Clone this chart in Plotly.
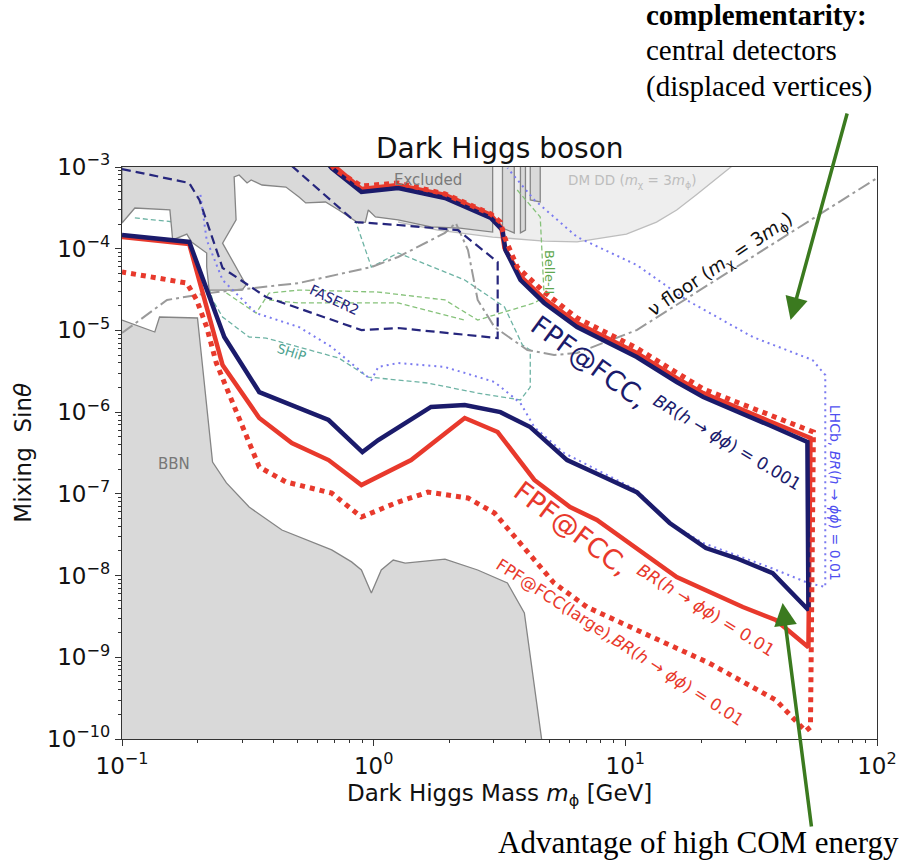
import plotly.graph_objects as go

# ---------------- data (mass in GeV, mixing sin(theta)) ----------------
# FPF@FCC, BR(h->phi phi)=0.001  (navy solid, closed contour: lower branch then upper branch)
navy_mass = [0.1, 0.185, 0.255, 0.351, 0.662, 0.902, 1.043, 1.69, 2.30, 3.19, 4.19, 5.87, 8.22, 11.1, 15.0, 20.9, 27.5, 38.5, 53.4,
             52.9, 37.2, 20.4, 16.0, 11.1, 6.43, 4.76, 3.83, 3.34, 3.25, 2.92, 1.92, 1.251, 0.894, 0.681, 0.639]
navy_sin = [1.47e-4, 1.21e-4, 8.30e-6, 1.76e-6, 8.01e-7, 3.25e-7, 4.56e-7, 1.16e-6, 1.22e-6, 1.00e-6, 6.57e-7, 2.59e-7, 1.61e-7, 1.05e-7, 4.40e-8, 2.17e-8, 1.64e-8, 1.07e-8, 3.79e-9,
            4.31e-7, 6.95e-7, 1.53e-6, 2.34e-6, 4.73e-6, 1.10e-5, 2.17e-5, 4.14e-5, 9.64e-5, 1.69e-4, 2.38e-4, 4.18e-4, 5.53e-4, 4.94e-4, 9.72e-4, 1.22e-3]

# FPF@FCC, BR=0.01 (red solid)
red_mass = [0.1, 0.185, 0.251, 0.351, 0.473, 0.662, 0.894, 1.043, 1.409, 2.30, 3.11, 4.35, 6.03, 7.71, 10.4, 16.0, 29.3, 39.6, 53.4,
            54.4, 37.2, 20.4, 16.0, 11.1, 6.43, 4.76, 3.83, 3.31, 3.22, 2.92, 1.92, 1.251, 0.894, 0.681, 0.639]
red_sin = [1.39e-4, 1.14e-4, 3.77e-6, 8.48e-7, 4.19e-7, 2.59e-7, 1.28e-7, 1.61e-7, 2.59e-7, 8.48e-7, 5.71e-7, 1.48e-7, 6.90e-8, 4.79e-8, 2.50e-8, 9.60e-9, 4.12e-9, 2.86e-9, 1.33e-9,
           4.82e-7, 7.79e-7, 1.71e-6, 2.61e-6, 5.30e-6, 1.23e-5, 2.43e-5, 4.63e-5, 1.02e-4, 1.79e-4, 2.59e-4, 4.54e-4, 6.02e-4, 5.38e-4, 1.06e-3, 1.29e-3]

# FPF@FCC(large), BR=0.01 (red dotted)
large_mass = [0.639, 0.706, 0.894, 1.251, 1.92, 2.92, 3.19, 3.31, 3.72, 4.76, 6.43, 11.1, 20.4, 37.2, 55.9,
              54.4, 52.0, 39.6, 21.5, 11.8, 7.04, 5.21, 3.83, 3.02, 2.37, 1.644, 1.251, 0.894, 0.681, 0.448, 0.351, 0.320, 0.274, 0.237, 0.217, 0.198, 0.181, 0.155, 0.1]
large_sin = [1.32e-3, 9.19e-4, 5.85e-4, 6.37e-4, 4.68e-4, 2.66e-4, 2.12e-4, 1.39e-4, 5.97e-5, 2.95e-5, 1.42e-5, 6.09e-6, 1.92e-6, 9.22e-7, 5.71e-7,
             1.40e-10, 1.25e-10, 3.00e-10, 8.51e-10, 1.98e-9, 4.12e-9, 8.11e-9, 2.50e-8, 5.83e-8, 8.89e-8, 1.05e-7, 7.94e-8, 5.21e-8, 1.02e-7, 1.40e-7, 2.13e-7, 4.19e-7, 1.41e-6, 3.99e-6, 1.10e-5, 2.36e-5, 3.80e-5, 4.14e-5, 5.19e-5]

# Excluded region (gray)
excl_mass = [0.1, 0.1, 0.1125, 0.155, 0.159, 0.181, 0.189, 0.217, 0.217, 0.222, 0.300, 0.311, 0.251, 0.284, 0.279, 0.292, 0.314,
             0.326, 0.360, 0.448, 0.505, 0.537, 0.644, 0.726, 0.870, 0.927, 0.952, 1.016, 1.251, 1.69, 2.20, 2.97, 2.97]
excl_sin = [1e-3, 2.06e-4, 3.15e-4, 2.98e-4, 1.28e-4, 1.51e-4, 1.21e-4, 8.87e-5, 5.97e-5, 3.12e-5, 3.12e-5, 3.60e-5, 1.17e-4, 2.25e-4, 7.55e-4, 7.98e-4, 6.37e-4,
            6.93e-4, 6.02e-4, 5.69e-4, 4.30e-4, 3.63e-4, 3.73e-4, 2.98e-4, 2.06e-4, 2.12e-4, 2.98e-4, 2.45e-4, 2.25e-4, 1.85e-4, 1.79e-4, 1.60e-4, 1e-3]
spike1_mass = [3.25, 3.25, 3.62, 3.62]
spike1_sin = [1e-3, 1.79e-4, 1.56e-4, 1e-3]
spike2_mass = [3.83, 3.83, 4.01, 4.01]
spike2_sin = [1e-3, 1.56e-4, 1.69e-4, 1e-3]
spike3_mass = [4.19, 4.19, 4.59, 4.59]
spike3_sin = [1e-3, 3.95e-4, 3.73e-4, 1e-3]

# DM direct detection (light gray, lower boundary)
dm_mass = [1.251, 1.80, 2.97, 4.76, 6.43, 10.1, 13.3, 16.0, 19.1, 25.8, 27.5]
dm_sin = [2.12e-4, 1.69e-4, 1.39e-4, 1.24e-4, 1.21e-4, 1.51e-4, 2.12e-4, 2.98e-4, 4.55e-4, 9.72e-4, 1.12e-3]

# BBN region
bbn_mass = [0.1, 0.135, 0.141, 0.1995, 0.229, 0.260, 0.320, 0.432, 0.681, 0.817, 0.894, 0.979, 1.072, 1.196, 1.334, 1.92, 2.59, 3.40, 3.97, 4.67, 0.1]
bbn_sin = [1.34e-5, 9.57e-6, 1.46e-5, 1.42e-5, 2.45e-7, 1.36e-7, 6.90e-8, 3.61e-8, 2.06e-8, 1.47e-8, 1.17e-8, 6.11e-9, 1.17e-8, 1.55e-8, 1.42e-8, 1.59e-8, 1.17e-8, 8.11e-9, 3.48e-9, 9e-11, 9e-11]

# FASER2
faser_mass = [0.473, 0.847, 1.251, 2.16, 3.11, 3.11, 1.251, 0.894, 0.374, 0.251, 0.203, 0.185, 0.1]
faser_sin = [1.03e-3, 2.12e-4, 1.95e-4, 1.69e-4, 6.88e-5, 8.07e-6, 1.07e-5, 1.01e-5, 2.56e-5, 5.81e-5, 3.95e-4, 6.37e-4, 9.45e-4]

# SHiP
ship_mass = [0.1125, 0.162, 0.194, 0.233, 0.284, 0.448, 0.662, 0.847, 0.979, 1.143, 1.251, 2.30, 3.31, 3.90, 4.19, 4.19, 3.83, 2.59,
             1.644, 1.251, 0.952, 0.726, 0.505, 0.374, 0.320, 0.251, 0.229, 0.222]
ship_sin = [2.38e-4, 2.12e-4, 1.69e-4, 3.95e-4, 8.69e-4, 6.93e-4, 4.54e-4, 2.18e-4, 5.97e-5, 7.70e-5, 8.87e-5, 4.14e-5, 1.94e-5, 6.63e-6, 5.76e-6, 2.03e-6, 1.41e-6, 1.71e-6,
            2.27e-6, 2.47e-6, 2.69e-6, 4.60e-6, 6.27e-6, 8.07e-6, 8.30e-6, 1.46e-5, 2.36e-5, 3.30e-5]

# Belle-II
belle_mass = [3.72, 4.59, 4.76, 4.35, 2.59, 1.92, 1.043, 0.505, 0.384, 0.341, 0.260]
belle_sin = [5.23e-4, 2.45e-4, 2.56e-5, 2.17e-5, 1.34e-5, 2.36e-5, 2.95e-5, 3.12e-5, 2.87e-5, 1.63e-5, 2.87e-5]
belle2_mass = [0.384, 0.505, 1.251, 2.30]
belle2_sin = [2.36e-5, 2.17e-5, 2.17e-5, 1.34e-5]

# LHCb, BR=0.01
lhcb_mass = [0.205, 0.217, 0.251, 0.341, 0.505, 0.681, 0.979, 1.043, 1.251, 1.92, 3.02, 3.83, 4.35, 5.71, 11.1, 15.0, 20.4, 37.2, 53.4, 62.3,
             62.3, 55.4, 32.1, 17.5, 11.1, 6.43, 4.35, 3.40]
lhcb_sin = [4.55e-4, 1.28e-4, 4.14e-5, 1.63e-5, 1.10e-5, 6.27e-6, 2.47e-6, 3.57e-6, 3.99e-6, 3.57e-6, 2.34e-6, 1.29e-6, 6.57e-7, 3.16e-7, 1.11e-7, 4.40e-8, 2.50e-8, 1.27e-8, 8.11e-9, 7.24e-9,
            2.85e-6, 4.35e-6, 8.30e-6, 2.36e-5, 6.32e-5, 1.39e-4, 3.95e-4, 9.72e-4]

# neutrino floor (m_chi = 3 m_phi)
nu_mass = [0.1, 0.151, 0.222, 0.505, 0.979, 1.251, 1.92, 2.12, 2.37, 2.59, 3.02, 4.08, 5.21, 6.43, 11.1, 100]
nu_sin = [9.29e-6, 2.36e-5, 2.87e-5, 3.80e-5, 5.97e-5, 7.92e-5, 1.56e-4, 2.06e-4, 9.64e-5, 2.36e-5, 1.10e-5, 5.76e-6, 5.00e-6, 5.30e-6, 1.01e-5, 7.33e-4]

x_tickvals = [0.1, 1, 10, 100]
x_ticktext = ["10<sup>−1</sup>", "10<sup>0</sup>", "10<sup>1</sup>", "10<sup>2</sup>"]
y_tickvals = [1e-10, 1e-9, 1e-8, 1e-7, 1e-6, 1e-5, 1e-4, 1e-3]
y_ticktext = ["10<sup>−10</sup>", "10<sup>−9</sup>", "10<sup>−8</sup>", "10<sup>−7</sup>",
              "10<sup>−6</sup>", "10<sup>−5</sup>", "10<sup>−4</sup>", "10<sup>−3</sup>"]
x_minor = [m * 10.0 ** e for e in (-1, 0, 1) for m in range(2, 10)]
y_minor = [m * 10.0 ** e for e in range(-10, -3) for m in range(2, 10)]

# ---------------- styles ----------------
NAVY = "#1b1b6b"
RED = "#e8392c"
GRAY_FILL = "#d9d9d9"
GRAY_LINE = "#858585"
FONT = "DejaVu Sans"

fig = go.Figure()

def add(x, y, **kw):
    fig.add_trace(go.Scatter(x=x, y=y, mode="lines", hoverinfo="skip", showlegend=False, **kw))

# DM DD region
add(dm_mass + [27.5, 1.251], dm_sin + [2e-3, 2e-3], fill="toself", fillcolor="#eeeeee",
    line=dict(width=0))
add(dm_mass, dm_sin, line=dict(color="#bdbdbd", width=1.3))
# SHiP (under excluded region)
add(ship_mass, ship_sin, line=dict(color="#6db3a4", width=1.3, dash="5px,3px"))
# Excluded region
add(excl_mass, excl_sin, fill="toself", fillcolor=GRAY_FILL, line=dict(color=GRAY_LINE, width=1.3))
for sx, sy in ((spike1_mass, spike1_sin), (spike2_mass, spike2_sin), (spike3_mass, spike3_sin)):
    add(sx, sy, fill="toself", fillcolor=GRAY_FILL, line=dict(color=GRAY_LINE, width=1.3))
# BBN
add(bbn_mass, bbn_sin, fill="toself", fillcolor=GRAY_FILL, line=dict(color=GRAY_LINE, width=1.3))
# Belle-II
add(belle_mass, belle_sin, line=dict(color="#86c27a", width=1.3, dash="5px,3px"))
add(belle2_mass, belle2_sin, line=dict(color="#86c27a", width=1.3, dash="5px,3px"))
# neutrino floor
add(nu_mass, nu_sin, line=dict(color="#9a9a9a", width=2, dash="13px,4px,3px,4px"))
# LHCb
add(lhcb_mass, lhcb_sin, line=dict(color="#7b7bf0", width=2, dash="2px,4px"))
# FASER2
add(faser_mass, faser_sin, line=dict(color="#26267d", width=2.2, dash="9px,5px"))
# FPF curves
add(red_mass, red_sin, line=dict(color=RED, width=4.5))
add(navy_mass, navy_sin, line=dict(color=NAVY, width=4.5))
add(large_mass, large_sin, line=dict(color=RED, width=5, dash="dot"))

def label(txt, lx, ly, size, color, angle=0, **kw):
    fig.add_annotation(x=lx, y=ly, xref="x", yref="y", text=txt, showarrow=False,
                       xanchor="center", yanchor="middle",
                       textangle=angle, font=dict(family=FONT, size=size, color=color), **kw)

def paper_text(txt, px, py, size, family=FONT, angle=0, xanchor="center", color="#111111"):
    fig.add_annotation(x=px, y=py, xref="paper", yref="paper", text=txt, showarrow=False,
                       xanchor=xanchor, yanchor="middle", textangle=angle,
                       font=dict(family=family, size=size, color=color))

phi = "<i>ϕ</i>"
label("Excluded", 0.216, -3.159, 15, "#7a7a7a")
label("DM DD (<i>m</i><sub>χ</sub> = 3<i>m</i><sub>ϕ</sub>)", 1.025, -3.171, 13.5, "#bdbdbd")
label("Belle-II", 0.701, -4.285, 13, "#5fa84f", angle=90)
label("FASER2", -0.155, -4.628, 14, "#26267d", angle=25)
label("SHiP", -0.325, -5.264, 13, "#4a9f8e", angle=18)
label("BBN", -0.795, -6.635, 15, "#777777")
label("ν floor (<i>m</i><sub>χ</sub> = 3<i>m</i><sub>ϕ</sub>)", 1.380, -4.199, 18.5, "#111111", angle=-34)
label("FPF@FCC,", 0.855, -5.386, 27, NAVY, angle=36)
label("<i>BR</i>(<i>h</i> → " + phi + phi + ") = 0.001", 1.404, -6.366, 17, NAVY, angle=31)
label("FPF@FCC,", 0.788, -7.418, 27, RED, angle=37)
label("<i>BR</i>(<i>h</i> → " + phi + phi + ") = 0.01", 1.321, -8.422, 17, RED, angle=32)
label("FPF@FCC(large),<i>BR</i>(<i>h</i> → " + phi + phi + ") = 0.01", 0.978, -8.825, 16.5, RED, angle=33)
label("LHCb, <i>BR</i>(<i>h</i> → " + phi + phi + ") = 0.01", 1.834, -6.990, 14, "#5050f0", angle=90)

# title and axis titles
paper_text("Dark Higgs boson", 0.5, 1.033, 28)
paper_text("Dark Higgs Mass <i>m</i><sub>ϕ</sub> [GeV]", 0.5, -0.098, 23)
paper_text("Mixing\u00a0\u00a0Sin<i>θ</i>", -0.1316, 0.5, 23, angle=-90)

# outer annotations
SERIF = "Liberation Serif"
paper_text("<b>complementarity:</b>", 0.692, 1.2657, 29, family=SERIF, xanchor="left", color="black")
paper_text("central detectors", 0.692, 1.2045, 29, family=SERIF, xanchor="left", color="black")
paper_text("(displaced vertices)", 0.692, 1.1399, 29, family=SERIF, xanchor="left", color="black")
paper_text("Advantage of high COM energy", 0.763, -0.1818, 31, family=SERIF, color="black")

GREEN = "#3b7a1f"
fig.add_annotation(x=0.8855, y=0.7325, xref="paper", yref="paper", text="", showarrow=True,
                   ax=57, ay=-208, arrowhead=2, arrowsize=1.3, arrowwidth=3.5, arrowcolor=GREEN)
fig.add_annotation(x=0.875, y=0.2378, xref="paper", yref="paper", text="", showarrow=True,
                   ax=29, ay=225, arrowhead=2, arrowsize=1.3, arrowwidth=3.5, arrowcolor=GREEN)

axis_common = dict(showline=True, mirror=True, linecolor="#333333", linewidth=1.3, showgrid=False, zeroline=False,
                   ticks="outside", ticklen=6, tickwidth=1.2, tickcolor="#333333",
                   tickfont=dict(family=FONT, size=23, color="#111111"))
fig.update_xaxes(type="log", range=[-1, 2], tickmode="array", tickvals=x_tickvals, ticktext=x_ticktext,
                 minor=dict(tickmode="array", tickvals=x_minor, ticks="outside", ticklen=3, tickwidth=1,
                            tickcolor="#333333"), **axis_common)
fig.update_yaxes(type="log", range=[-10, -3], tickmode="array", tickvals=y_tickvals, ticktext=y_ticktext,
                 minor=dict(tickmode="array", tickvals=y_minor, ticks="outside", ticklen=3, tickwidth=1,
                            tickcolor="#333333"), **axis_common)

fig.update_layout(width=909, height=861, margin=dict(l=122, r=27, t=167, b=122),
                  paper_bgcolor="white", plot_bgcolor="white", showlegend=False)

fig.write_html("out.html")
